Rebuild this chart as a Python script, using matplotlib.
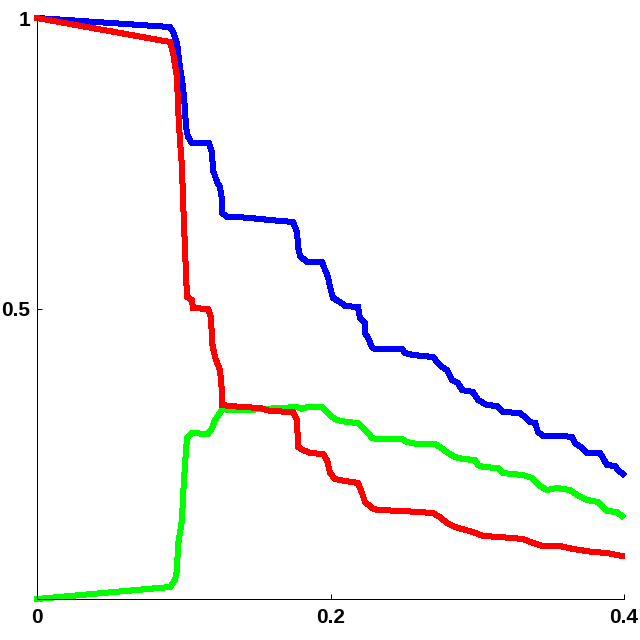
import matplotlib
matplotlib.use("Agg")
import matplotlib.pyplot as plt

# Blue curve
blue_x = [0, .0906, .0927, .0954, .0974, .0995, .1009, .1015, .1029, .1056, .1172, .1193, .1199, .1227,
          .1247, .1261, .1261, .1295, .1363, .1451, .1588, .1744, .1772, .1779, .1792, .1840, .1942, .1963,
          .1983, .1997, .2017, .2065, .2099, .2187, .2201, .2235, .2235, .2256, .2283, .2303, .2487, .2508,
          .2562, .2698, .2733, .2760, .2794, .2828, .2869, .2896, .2971, .3005, .3066, .3135, .3176, .3291,
          .3325, .3359, .3394, .3414, .3448, .3578, .3646, .3666, .3714, .3748, .3836, .3857, .3884, .3939,
          .3959, .3993]
blue_y = [1.0, .9845, .9759, .9570, .9157, .8812, .8417, .8124, .7952, .7849, .7849, .7676, .7384, .7177,
          .7091, .6867, .6644, .6575, .6575, .6558, .6523, .6489, .6317, .6059, .5904, .5800, .5800, .5663,
          .5542, .5370, .5181, .5112, .5043, .5026, .4836, .4750, .4578, .4492, .4337, .4303, .4303, .4234,
          .4200, .4165, .4062, .3993, .3941, .3769, .3718, .3597, .3563, .3425, .3339, .3322, .3219, .3201,
          .3133, .3046, .3029, .2874, .2806, .2806, .2788, .2685, .2599, .2513, .2513, .2427, .2306, .2289,
          .2220, .2151]

# Red curve
red_x = [0, .0906, .0927, .0954, .0961, .0974, .0988, .0995, .1009, .1015, .1022, .1056, .1063, .1165,
         .1186, .1193, .1213, .1227, .1247, .1261, .1261, .1315, .1404, .1520, .1588, .1744, .1772, .1779,
         .1813, .1860, .1949, .1976, .1997, .2031, .2099, .2187, .2215, .2235, .2283, .2317, .2494, .2698,
         .2746, .2794, .2848, .2971, .3039, .3155, .3312, .3380, .3448, .3564, .3653, .3789, .3884, .3986]
red_y = [1.0, .9587, .9398, .8985, .8468, .7900, .7435, .6867, .6007, .5611, .5198, .5146, .5009, .4991,
         .4854, .4406, .4165, .4062, .3941, .3546, .3339, .3322, .3305, .3287, .3236, .3219, .3081, .2616,
         .2565, .2513, .2496, .2392, .2169, .2065, .2031, .1997, .1824, .1670, .1566, .1532, .1515, .1480,
         .1411, .1308, .1239, .1153, .1084, .1067, .1033, .0964, .0912, .0912, .0861, .0809, .0792, .0740]

# Green curve
green_x = [0, .0906, .0940, .0954, .0961, .0988, .0995, .1009, .1022, .1056, .1165, .1193, .1213, .1247,
           .1267, .1295, .1431, .1540, .1772, .1806, .1840, .1942, .1976, .2010, .2044, .2112, .2187, .2221,
           .2256, .2283, .2317, .2487, .2521, .2589, .2712, .2746, .2801, .2848, .2903, .2985, .3005, .3039,
           .3141, .3176, .3237, .3312, .3373, .3428, .3475, .3543, .3632, .3680, .3748, .3823, .3857, .3884,
           .3952, .3986]
green_y = [0, .0207, .0327, .0499, .0929, .1360, .1756, .2341, .2771, .2857, .2840, .2943, .3081, .3201,
           .3287, .3253, .3253, .3270, .3305, .3270, .3305, .3305, .3219, .3133, .3081, .3046, .3029, .2943,
           .2857, .2771, .2754, .2754, .2702, .2668, .2668, .2616, .2513, .2444, .2410, .2392, .2306, .2272,
           .2255, .2169, .2151, .2134, .2083, .1945, .1876, .1910, .1876, .1790, .1704, .1670, .1583, .1515,
           .1497, .1429]

x_ticks = [0, 0.2, 0.4]
x_labels = ["0", "0.2", "0.4"]
y_ticks = [0.5, 1.0]
y_labels = ["0.5", "1"]

plt.rcParams['font.family'] = ['Liberation Sans', 'DejaVu Sans']

fig = plt.figure(figsize=(6.4, 6.4), dpi=100)
ax = fig.add_axes([37 / 640, 41 / 640, 587 / 640, 581 / 640])

lw = 3.6
for xs, ys, col in [(blue_x, blue_y, (0, 0, 1)), (green_x, green_y, (0, 1, 0)), (red_x, red_y, (1, 0, 0))]:
    ax.plot(xs, ys, color=col, lw=lw, clip_on=False, solid_joinstyle='miter', antialiased=False)

ax.set_xlim(0, 0.4)
ax.set_ylim(0, 1)
for s in ['top', 'right']:
    ax.spines[s].set_visible(False)
for s in ['left', 'bottom']:
    ax.spines[s].set_linewidth(0.72)
    ax.spines[s].set_color('black')

ax.set_xticks(x_ticks)
ax.set_xticklabels(x_labels)
ax.set_yticks(y_ticks)
ax.set_yticklabels(y_labels)
ax.tick_params(direction='in', length=3.5, width=0.72, labelsize=15, colors='black')
ax.tick_params(axis='x', pad=6.5)
ax.tick_params(axis='y', pad=5)
for lab in ax.get_xticklabels() + ax.get_yticklabels():
    lab.set_fontweight('bold')

fig.savefig("out.png", dpi=100, facecolor='white')
